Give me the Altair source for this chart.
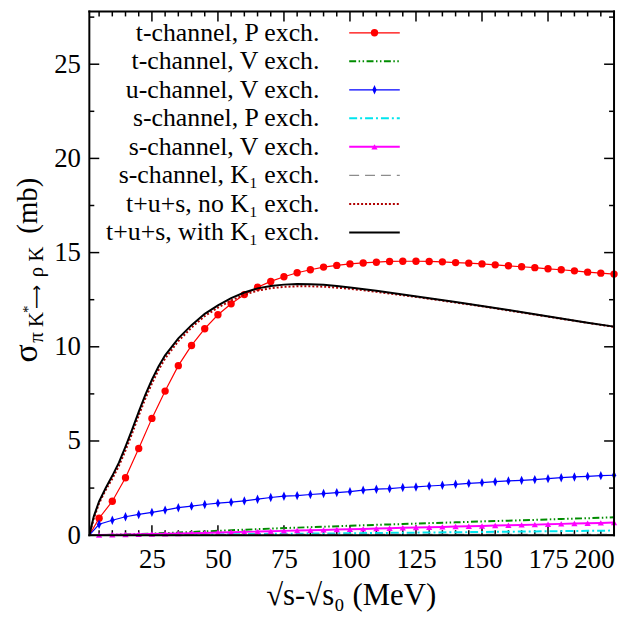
import altair as alt
import pandas as pd

# ---------------- data ----------------
X_MARK = [5, 10, 15, 20, 25, 30, 35, 40, 45, 50, 55, 60, 65, 70, 75, 80, 85, 90, 95, 100,
          105, 110, 115, 120, 125, 130, 135, 140, 145, 150, 155, 160, 165, 170, 175, 180,
          185, 190, 195, 200]
T_P_EXCH = [0.9, 1.8, 3.05, 4.6, 6.2, 7.65, 9.0, 10.07, 10.96, 11.7, 12.28, 12.77, 13.16,
            13.47, 13.72, 13.93, 14.09, 14.23, 14.32, 14.4, 14.45, 14.49, 14.53, 14.54,
            14.54, 14.53, 14.51, 14.47, 14.44, 14.4, 14.35, 14.3, 14.25, 14.2, 14.14,
            14.09, 14.03, 13.96, 13.91, 13.86]
U_V_EXCH = [0.58, 0.79, 0.98, 1.10, 1.21, 1.33, 1.46, 1.54, 1.63, 1.70, 1.75, 1.82, 1.91,
            2.00, 2.07, 2.10, 2.16, 2.21, 2.26, 2.31, 2.39, 2.44, 2.47, 2.53, 2.56, 2.61,
            2.65, 2.70, 2.75, 2.79, 2.84, 2.88, 2.91, 2.95, 3.00, 3.05, 3.09, 3.12, 3.16, 3.18]
S_V_EXCH = [0.01, 0.02, 0.035, 0.05, 0.06, 0.075, 0.09, 0.105, 0.12, 0.14, 0.155, 0.175,
            0.19, 0.21, 0.228, 0.245, 0.262, 0.28, 0.298, 0.315, 0.333, 0.35, 0.37, 0.39,
            0.405, 0.42, 0.44, 0.46, 0.475, 0.49, 0.51, 0.53, 0.545, 0.56, 0.58, 0.6,
            0.618, 0.635, 0.652, 0.67]

X_SMOOTH = [1.3, 3, 5, 7.5, 10, 12.5, 15, 17.5, 20, 22.5, 25, 27.5, 30, 35, 40, 45, 50, 55,
            60, 65, 70, 75, 80, 85, 90, 95, 100, 110, 120, 130, 140, 150, 160, 170, 180,
            190, 200]
TUS_WITH_K1 = [0, 1.0, 1.8, 2.5, 3.15, 3.85, 4.7, 5.6, 6.55, 7.45, 8.25, 8.95, 9.55,
               10.45, 11.15, 11.75, 12.2, 12.58, 12.88, 13.1, 13.23, 13.3, 13.33, 13.32,
               13.29, 13.23, 13.15, 12.97, 12.78, 12.58, 12.38, 12.17, 11.95, 11.73, 11.5,
               11.28, 11.07]
TUS_NO_K1 = [0, 0.9, 1.7, 2.4, 3.0, 3.68, 4.5, 5.4, 6.35, 7.25, 8.05, 8.77, 9.38, 10.3,
             11.02, 11.63, 12.08, 12.46, 12.76, 12.98, 13.11, 13.18, 13.21, 13.21, 13.19,
             13.14, 13.08, 12.92, 12.74, 12.55, 12.35, 12.15, 11.93, 11.71, 11.49, 11.27,
             11.06]

X_SMALL = [1.3, 10, 20, 30, 40, 50, 60, 70, 80, 90, 100, 110, 120, 130, 140, 150, 160, 170,
           180, 190, 200]
T_V_EXCH = [0, 0.02, 0.06, 0.11, 0.17, 0.23, 0.29, 0.35, 0.4, 0.45, 0.5, 0.55, 0.59, 0.64,
            0.68, 0.73, 0.77, 0.81, 0.86, 0.9, 0.95]
S_P_EXCH = [0, 0.005, 0.01, 0.02, 0.03, 0.04, 0.055, 0.07, 0.08, 0.09, 0.1, 0.115, 0.13,
            0.14, 0.155, 0.17, 0.185, 0.2, 0.215, 0.23, 0.245]
S_K1_EXCH = [0, 0.01, 0.02, 0.02, 0.025, 0.025, 0.03, 0.03, 0.03, 0.03, 0.03, 0.03, 0.03,
             0.03, 0.03, 0.03, 0.03, 0.03, 0.03, 0.03, 0.03]

LEGEND_LABELS = ["t-channel, P exch.", "t-channel, V exch.", "u-channel, V exch.",
                 "s-channel, P exch.", "s-channel, V exch.", "s-channel, K\u2081 exch.",
                 "t+u+s, no K\u2081 exch.", "t+u+s, with K\u2081 exch."]

X_LABELS = [25, 50, 75, 100, 125, 150, 175, 200]
X_MINOR = [5, 10, 15, 20, 30, 35, 40, 45, 55, 60, 65, 70, 80, 85, 90, 95, 105, 110, 115,
           120, 130, 135, 140, 145, 155, 160, 165, 170, 180, 185, 190, 195]
Y_LABELS = [0, 5, 10, 15, 20, 25]
Y_MINOR = [2.5, 7.5, 12.5, 17.5, 22.5, 27.5]

# ---------------- layout ----------------
W, H = 529, 528
FONT = "Liberation Serif"
DIAMOND = "M0,-1L0.45,0L0,1L-0.45,0Z"

xscale = alt.Scale(domain=[1.3, 200], nice=False, zero=False)
yscale = alt.Scale(domain=[0, 27.8], nice=False, zero=False)
xaxis = alt.Axis(values=X_LABELS, title=None, domain=False, ticks=False, tickSize=0,
                 grid=False, labelFont=FONT, labelFontSize=27, labelColor="black",
                 labelPadding=12, labelFlush=True, labelOverlap=False)
yaxis = alt.Axis(values=Y_LABELS, title=None, domain=False, ticks=False, tickSize=0,
                 grid=False, labelFont=FONT, labelFontSize=27, labelColor="black",
                 labelPadding=9, labelFlush=False, labelOverlap=False)


def X(f="x"):
    return alt.X(f"{f}:Q", scale=xscale, axis=xaxis)


def Y(f="y"):
    return alt.Y(f"{f}:Q", scale=yscale, axis=yaxis)


# series: (xs, ys, color, width, dash, shape, size)
SERIES = [
    (X_MARK, T_P_EXCH, "#ff0000", 1.2, None, "circle", 55),
    (X_SMALL, T_V_EXCH, "#008c00", 2, [7, 2.5, 1.5, 2.5, 1.5, 2.5], None, None),
    (X_MARK, U_V_EXCH, "#0000ff", 1.2, None, DIAMOND, 90),
    (X_SMALL, S_P_EXCH, "#00e5ee", 2, [8, 3, 2, 3], None, None),
    (X_MARK, S_V_EXCH, "#ff00ff", 2, None, "triangle-up", 40),
    (X_SMALL, S_K1_EXCH, "#8c8c8c", 1.5, [10, 6], None, None),
    (X_SMOOTH, TUS_NO_K1, "#b00000", 2, [2, 2], None, None),
    (X_SMOOTH, TUS_WITH_K1, "#000000", 2, None, None, None),
]

layers = []
one = pd.DataFrame({"t": [""]})

# ticks (inward, mirrored)
maj_x = pd.DataFrame({"x": X_LABELS})
min_x = pd.DataFrame({"x": X_MINOR})
maj_y = pd.DataFrame({"y": Y_LABELS})
min_y = pd.DataFrame({"y": Y_MINOR})
for df, ln in ((maj_x, 10), (min_x, 5)):
    layers.append(alt.Chart(df).mark_rule(color="black", strokeWidth=1.5).encode(
        x=X(), y=alt.value(H), y2=alt.value(H - ln)))
    layers.append(alt.Chart(df).mark_rule(color="black", strokeWidth=1.5).encode(
        x=X(), y=alt.value(0), y2=alt.value(ln)))
for df, ln in ((maj_y, 10), (min_y, 5)):
    layers.append(alt.Chart(df).mark_rule(color="black", strokeWidth=1.5).encode(
        y=Y(), x=alt.value(0), x2=alt.value(ln)))
    layers.append(alt.Chart(df).mark_rule(color="black", strokeWidth=1.5).encode(
        y=Y(), x=alt.value(W), x2=alt.value(W - ln)))

# curves
for xs, ys, color, width, dash, shape, size in SERIES:
    if xs[0] > 1.3:
        xs_line = [1.3] + list(xs)
        ys_line = [0] + list(ys)
    else:
        xs_line, ys_line = list(xs), list(ys)
    df = pd.DataFrame({"x": xs_line, "y": ys_line})
    kw = dict(color=color, strokeWidth=width, clip=True)
    if dash:
        kw["strokeDash"] = dash
    layers.append(alt.Chart(df).mark_line(**kw).encode(x=X(), y=Y()))
    if shape:
        dfp = pd.DataFrame({"x": list(xs), "y": list(ys)})
        layers.append(alt.Chart(dfp).mark_point(shape=shape, size=size, filled=True,
                                                color=color, opacity=1).encode(x=X(), y=Y()))

# frame
for enc in (dict(x=alt.value(0), x2=alt.value(W), y=alt.value(0)),
            dict(x=alt.value(0), x2=alt.value(W), y=alt.value(H)),
            dict(y=alt.value(0), y2=alt.value(H), x=alt.value(0)),
            dict(y=alt.value(0), y2=alt.value(H), x=alt.value(W))):
    layers.append(alt.Chart(one).mark_rule(color="black", strokeWidth=2,
                                           strokeCap="square").encode(**enc))

# legend (manual)
ROW0, DROW = 21.5, 28.75
LX_TEXT, LX0, LX1, LXM = 232, 262, 313, 287.5
for i, (lab, s) in enumerate(zip(LEGEND_LABELS, SERIES)):
    _, _, color, width, dash, shape, size = s
    yy = ROW0 + DROW * i
    layers.append(alt.Chart(pd.DataFrame({"t": [lab]})).mark_text(
        font=FONT, fontSize=26, align="right", baseline="middle", color="black").encode(
        text="t:N", x=alt.value(LX_TEXT), y=alt.value(yy)))
    kw = dict(color=color, strokeWidth=width)
    if dash:
        kw["strokeDash"] = dash
    layers.append(alt.Chart(pd.DataFrame({"t": [lab]})).mark_rule(**kw).encode(
        x=alt.value(LX0), x2=alt.value(LX1), y=alt.value(yy)))
    if shape:
        layers.append(alt.Chart(pd.DataFrame({"t": [lab]})).mark_point(
            shape=shape, size=size, filled=True, color=color, opacity=1).encode(
            x=alt.value(LXM), y=alt.value(yy)))

# y-axis title pieces (rotated)
YT = [
    ("\u03c3", 34, -53, 354, FONT),
    ("\u03c0", 21, -47, 334, FONT),
    ("K", 21, -47, 318, FONT),
    ("*", 15, -57, 304, FONT),
    ("\u27f6", 17, -48, 300, "DejaVu Sans"),
    ("\u03c1", 21, -47, 268, FONT),
    ("K", 21, -47, 252, FONT),
    ("(mb)", 29, -53, 224, FONT),
]
for t, fs, px, py, fnt in YT:
    layers.append(alt.Chart(pd.DataFrame({"t": [t]})).mark_text(
        font=fnt, fontSize=fs, angle=270, align="left", baseline="alphabetic",
        color="black").encode(text="t:N", x=alt.value(px), y=alt.value(py)))

# x-axis title
layers.append(alt.Chart(pd.DataFrame({"t": ["\u221as-\u221as\u2080 (MeV)"]})).mark_text(
    font=FONT, fontSize=31, align="center", baseline="middle", color="black").encode(
    text="t:N", x=alt.value(264), y=alt.value(589)))

chart = alt.layer(*layers).properties(
    width=W, height=H,
    autosize=alt.AutoSizeParams(type="none"),
    padding={"left": 82, "top": 1, "right": 4, "bottom": 80},
    background="white",
).configure_view(stroke=None)

chart.save("out.html", embed_options={"renderer": "svg", "actions": False})
